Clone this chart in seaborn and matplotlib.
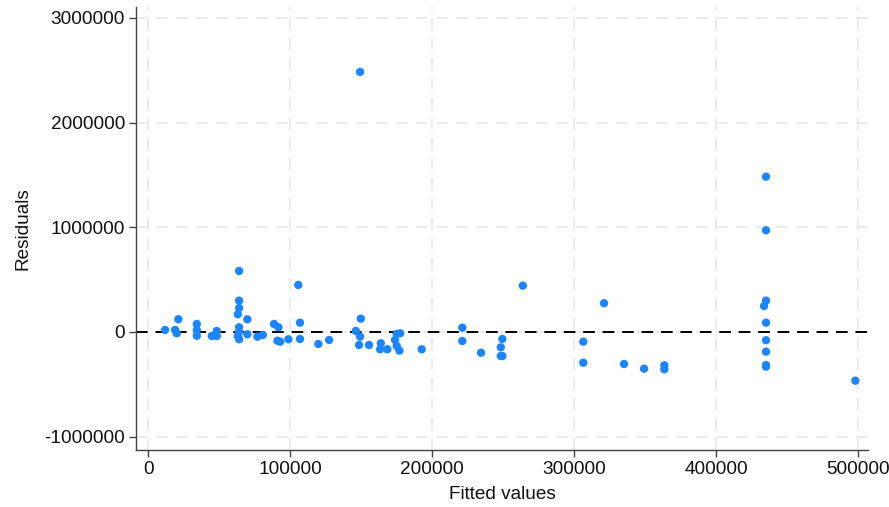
import seaborn as sns
import matplotlib.pyplot as plt
import pandas as pd

# residual-vs-fitted points
fitted = [11970, 19000, 20200, 21300, 34300, 34300, 34300, 44900, 48400, 48400,
          64100, 64100, 64100, 63200, 64100, 64100, 63200, 64100, 69900, 69900,
          77000, 80800, 88700, 91800, 91100, 93000, 98800, 105800, 107000, 107000,
          119900, 127500, 149300, 149800, 146300, 149300, 148600, 155600, 163900, 163400,
          168500, 175100, 177500, 173900, 175100, 177000, 192700, 221300, 221300, 234500,
          249500, 248400, 248400, 249500, 263900, 306500, 306500, 321100, 335200, 349300,
          363600, 363600, 435200, 435200, 435200, 433800, 435200, 435200, 435200, 435200,
          435200, 498100]
resid = [19100, 19100, -12400, 121300, 76400, 19100, -35300, -38200, 9600, -38200,
         582600, 299000, 229200, 169100, 44900, 2900, -38200, -69700, 121300, -22000,
         -44900, -28700, 76400, 44900, -83100, -92600, -69700, 448900, 88800, -66900,
         -114600, -76400, 2483000, 127000, 9600, -44900, -124200, -124200, -107900, -165200,
         -165200, -19100, -12400, -76400, -133700, -178600, -165200, 41100, -86000, -197700,
         -66900, -146100, -229200, -229200, 442200, -92600, -293200, 274100, -305600, -350500,
         -318100, -356300, 1483000, 971000, 299000, 248000, 89000, -79000, -188000, -315000,
         -331000, -465100]
xticks = [0, 100000, 200000, 300000, 400000, 500000]
yticks = [-1000000, 0, 1000000, 2000000, 3000000]

df = pd.DataFrame({'Fitted values': fitted, 'Residuals': resid})

sns.set_theme(style='white', rc={'axes.unicode_minus': False})
plt.rcParams['font.family'] = ['Liberation Sans', 'DejaVu Sans']

fig = plt.figure(figsize=(8.89, 5.07), dpi=100)
ax = fig.add_axes([136 / 889, 1 - 450 / 507, 732 / 889, 443 / 507])

for t in xticks:
    ax.axvline(t, color='#e8e8e8', lw=1.2, ls=(0, (7, 5)), zorder=0)
for t in yticks:
    ax.axhline(t, color='#e8e8e8', lw=1.2, ls=(0, (7, 5)), zorder=0)
ax.axhline(0, color='black', lw=1.4, ls=(0, (6, 4)), zorder=1)

sns.scatterplot(data=df, x='Fitted values', y='Residuals', ax=ax,
                color='#1a85ff', s=36, edgecolor='none', linewidth=0, zorder=3)

ax.set_xlim(-8500, 507000)
ax.set_ylim(-1127000, 3103000)
ax.set_xticks(xticks)
ax.set_yticks(yticks)
ax.set_xticklabels([str(t) for t in xticks])
ax.set_yticklabels([str(t) for t in yticks])

for side in ['top', 'right']:
    ax.spines[side].set_visible(False)
for side in ['left', 'bottom']:
    ax.spines[side].set_color('#444444')
    ax.spines[side].set_linewidth(1.0)
ax.tick_params(axis='both', direction='out', length=5, width=1, color='#444444',
               labelsize=13.7, labelcolor='#111111', left=True, bottom=True, pad=3)
ax.set_xlabel('Fitted values', fontsize=13.7, color='#111111', labelpad=6)
ax.set_ylabel('Residuals', fontsize=13.7, color='#111111', labelpad=9)

fig.savefig('out.png', dpi=100)
